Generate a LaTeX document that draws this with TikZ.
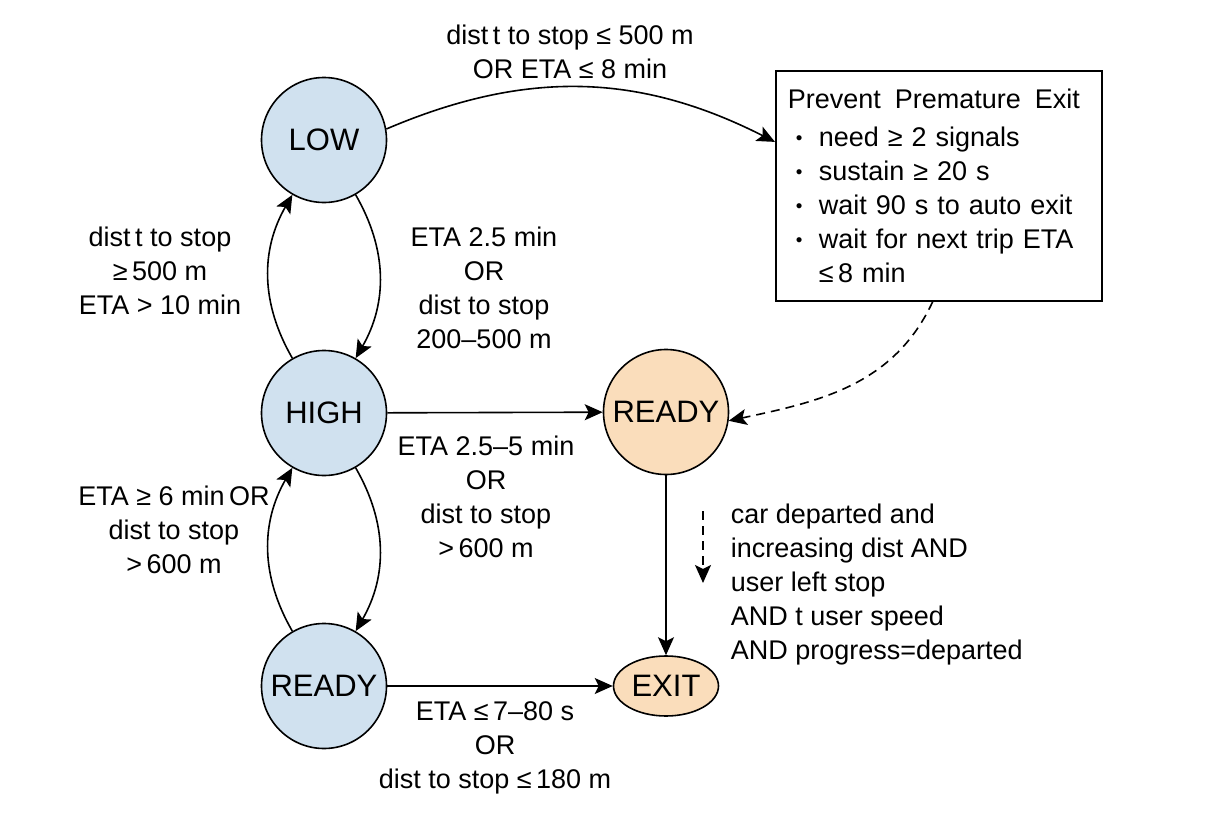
\documentclass[tikz,border=0pt]{standalone}
\usepackage{fontspec}
\setmainfont{Liberation Sans}
\usetikzlibrary{arrows.meta,shapes,positioning}
\newcommand{\bul}{\hspace*{4pt}\makebox[11.5pt][l]{\raisebox{1pt}{\scalebox{0.7}{\textbullet}}}}
\definecolor{stblue}{HTML}{D0E1EF}
\definecolor{storange}{HTML}{FADDBB}

\begin{document}
\begin{tikzpicture}[x=0.5pt,y=-0.5pt,line width=0.8pt,
  >={Stealth[length=9pt,width=8pt,inset=2pt]},
  state/.style={circle,draw,minimum size=62.5pt,inner sep=0pt,font=\fontsize{15.5}{18}\selectfont},
  lbl/.style={align=center,inner sep=0pt,font=\fontsize{13.5}{17}\selectfont},
  dashline/.style={dash pattern=on 4.5pt off 3pt}]
\useasboundingbox (0,0) rectangle (1228,819);
% states
\node[state,fill=stblue] (low) at (324,140) {LOW};
\node[state,fill=stblue] (high) at (324,413) {HIGH};
\node[state,fill=stblue] (readyb) at (324,686) {READY};
\node[state,fill=storange] (readyo) at (666,412) {READY};
\node[ellipse,draw,fill=storange,minimum width=52.5pt,minimum height=30pt,inner sep=0pt,
  font=\fontsize{15.5}{18}\selectfont] (exitst) at (666,686) {EXIT};
\node[draw,anchor=north west,align=left,text width=151pt,minimum height=115pt,inner sep=6pt,
  font=\fontsize{13.5}{17}\selectfont] (box) at (775,70)
  {Prevent\hspace{7pt}Premature\hspace{7pt}Exit\\[2pt]
   \bul need ≥ 2 signals\\
   \bul sustain ≥ 20 s\\
   \bul wait 90 s to auto exit\\
   \bul wait for next trip ETA\\
   \hspace*{15.5pt}≤\,8 min};
% transitions
\draw[->] (low) to[bend left=30] (high);
\draw[->] (high) to[bend left=30] (low);
\draw[->] (high) to[bend left=30] (readyb);
\draw[->] (readyb) to[bend left=30] (high);
\draw[->] (low.10) to[bend left=25] (box.165);
\draw[->] (high) -- (readyo);
\draw[->,dashline] (box.-93) to[out=-115,in=12] (readyo.-8);
\draw[->] (readyo) -- (exitst);
\draw[->] (readyb) -- (exitst);
\coordinate (dtop) at (703,511);
\coordinate (dbot) at (703,583);
\draw[->,dashline] (dtop) -- (dbot);
% labels
\node[lbl] (ltop) at (570,52) {dist\,t to stop ≤ 500 m\\OR ETA ≤ 8 min};
\node[lbl] (lup) at (160,271) {dist\,t to stop\\≥\,500 m\\ETA > 10 min};
\node[lbl] (ldown) at (484,288) {ETA 2.5 min\\OR\\dist to stop\\200–500 m};
\node[lbl] (lback) at (174,530) {ETA ≥ 6 min\,OR\\dist to stop\\>\,600 m};
\node[lbl] (lmid) at (486,497) {ETA 2.5–5 min\\OR\\dist to stop\\>\,600 m};
\node[lbl] (lexit) at (495,748) {ETA ≤\,7–80 s\\OR\\dist to stop ≤\,180 m};
\node[lbl,align=left,anchor=west] (cond) at (730,585)
  {car departed and\\increasing dist AND\\user left stop\\AND t user speed\\AND progress=departed};
\end{tikzpicture}
\end{document}
